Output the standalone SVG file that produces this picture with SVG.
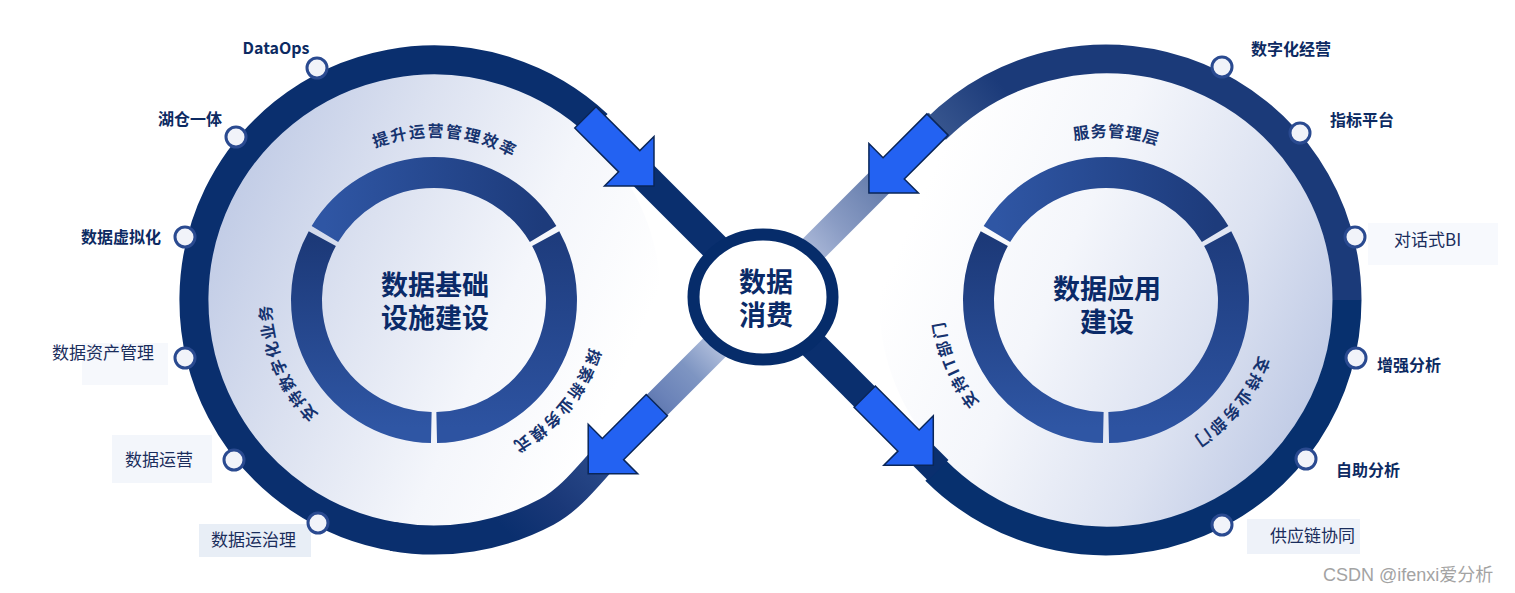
<svg xmlns="http://www.w3.org/2000/svg" width="1515" height="593" viewBox="0 0 1515 593">
<defs>
<linearGradient id="diskL" gradientUnits="userSpaceOnUse" x1="620" y1="380" x2="210" y2="200">
<stop offset="0" stop-color="#ffffff"/><stop offset="0.3" stop-color="#f4f6fb"/><stop offset="0.65" stop-color="#dbe1f0"/><stop offset="1" stop-color="#bfcae5"/>
</linearGradient>
<linearGradient id="diskR" gradientUnits="userSpaceOnUse" x1="920" y1="200" x2="1330" y2="380">
<stop offset="0" stop-color="#ffffff"/><stop offset="0.35" stop-color="#f4f6fb"/><stop offset="0.7" stop-color="#dce2f1"/><stop offset="1" stop-color="#bfcae5"/>
</linearGradient>
<linearGradient id="bandUR" gradientUnits="userSpaceOnUse" x1="1010" y1="95" x2="790" y2="275">
<stop offset="0" stop-color="#1b3a79"/><stop offset="0.3" stop-color="#3a5890"/><stop offset="0.76" stop-color="#8a9cc4"/><stop offset="0.9" stop-color="#aab8d8"/><stop offset="1" stop-color="#b6c3df"/>
</linearGradient>
<linearGradient id="bandLL" gradientUnits="userSpaceOnUse" x1="520" y1="545" x2="720" y2="345">
<stop offset="0" stop-color="#0a2f6e"/><stop offset="0.2" stop-color="#1a3878"/><stop offset="0.45" stop-color="#2c4c8c"/><stop offset="0.73" stop-color="#6a82b8"/><stop offset="0.86" stop-color="#7e95c2"/><stop offset="1" stop-color="#b4c1de"/>
</linearGradient>
<linearGradient id="segTop" x1="0" y1="0" x2="1" y2="0">
<stop offset="0" stop-color="#2f56a4"/><stop offset="1" stop-color="#1d3b7b"/>
</linearGradient>
<linearGradient id="segLeft" x1="0" y1="0" x2="0" y2="1">
<stop offset="0" stop-color="#1c3978"/><stop offset="1" stop-color="#2f56a4"/>
</linearGradient>
<linearGradient id="segRight" x1="0" y1="0" x2="0" y2="1">
<stop offset="0" stop-color="#1e3c7d"/><stop offset="1" stop-color="#2d53a1"/>
</linearGradient>
<path id="tp1" d="M 275.8 260.6 A 163 163 0 0 1 596.1 283.0"/>
<path id="tp2" d="M 470.7 458.8 A 163 163 0 0 1 345.2 163.3"/>
<path id="tp3" d="M 557.8 193.9 A 163 163 0 0 1 354.0 442.0"/>
<path id="tp4" d="M 947.6 261.7 A 163 163 0 0 1 1268.0 281.8"/>
<path id="tp5" d="M 1142.7 458.8 A 163 163 0 0 1 1017.2 163.3"/>
<path id="tp6" d="M 1229.0 193.1 A 163 163 0 0 1 1027.0 442.6"/>
</defs>
<style>
.ring{fill:none;stroke-width:29;stroke-linecap:butt;stroke-linejoin:round}
.seg{fill:none;stroke-width:31}
.arrow{fill:#2362f2;stroke:#0a2658;stroke-width:1.5;stroke-linejoin:miter}
.dot{fill:#f1f3f9;stroke:#2a4a90;stroke-width:3}
.big{font-family:"Noto Sans CJK SC","Noto Sans",sans-serif;font-size:27px;font-weight:700;fill:#0a2a68;text-anchor:middle}
.arc{font-family:"Noto Sans CJK SC","Noto Sans",sans-serif;font-size:16px;font-weight:700;fill:#16336f}
.lb{font-family:"Noto Sans CJK SC","Noto Sans",sans-serif;font-size:16px;font-weight:700;fill:#0c2a62}
.lr{font-family:"Noto Sans CJK SC","Noto Sans",sans-serif;font-size:17px;font-weight:400;fill:#1a2d5c}
.box{stroke:none}
</style>
<rect width="1515" height="593" fill="#ffffff"/>

<g id="left-node">
<circle cx="434" cy="300" r="227" fill="url(#diskL)"/>
</g>
<g id="right-node">
<circle cx="1106" cy="300" r="227" fill="url(#diskR)"/>
</g>

<g id="connectors">
<path class="ring" stroke="#0a2f6e" d="M 597.7 124.5 A 240 240 0 1 0 396.5 537.0"/>
<path class="ring" stroke="url(#bandLL)" d="M 392.3 536.4 A 240 240 0 0 0 546.7 511.9 C 573.2 497.8 591.8 470.2 613 449 L 765 297"/>
<path class="ring" stroke="url(#bandUR)" d="M 765 297 L 939 123"/>
<path class="ring" stroke="url(#bandUR)" d="M 1347 300 A 241 241 0 0 0 935.6 129.6"/>
<path class="ring" stroke="#07306e" d="M 935.6 470.4 A 241 241 0 0 0 1347 300"/>
<path class="ring" stroke="#0a2f6e" d="M 595.3 127.3 L 938.2 470.2"/>
<polygon class="arrow" points="0,-15 62,-15 62,-35 97,0 62,35 62,15 0,15" transform="translate(585.4 117.4) rotate(45)"/>
<polygon class="arrow" points="0,-15 62,-15 62,-35 97,0 62,35 62,15 0,15" transform="translate(864.7 396.7) rotate(45)"/>
<polygon class="arrow" points="0,-15 62,-15 62,-35 97,0 62,35 62,15 0,15" transform="translate(937.5 124.5) rotate(135)"/>
<polygon class="arrow" points="0,-15 62,-15 62,-35 97,0 62,35 62,15 0,15" transform="translate(656.8 405.2) rotate(135)"/>
</g>

<g id="left-core">
<path class="seg" stroke="url(#segTop)" d="M 324.9 234.0 A 127.5 127.5 0 0 1 543.1 234.0"/>
<path class="seg" stroke="url(#segRight)" d="M 545.7 238.6 A 127.5 127.5 0 0 1 436.7 427.5"/>
<path class="seg" stroke="url(#segLeft)" d="M 431.3 427.5 A 127.5 127.5 0 0 1 322.3 238.6"/>
<text class="big"><tspan x="435" y="295">数据基础</tspan><tspan x="435" y="328">设施建设</tspan></text>
<text class="arc" font-size="17" letter-spacing="2"><textPath href="#tp1" startOffset="50%" text-anchor="middle">提升运营管理效率</textPath></text>
<text class="arc" letter-spacing="1.7"><textPath href="#tp2" startOffset="50%" text-anchor="middle">支持数字化业务</textPath></text>
<text class="arc" letter-spacing="2.3"><textPath href="#tp3" startOffset="50%" text-anchor="middle">探索新业务模式</textPath></text>
</g>

<g id="right-core">
<path class="seg" stroke="url(#segTop)" d="M 996.9 234.0 A 127.5 127.5 0 0 1 1215.1 234.0"/>
<path class="seg" stroke="url(#segRight)" d="M 1217.7 238.6 A 127.5 127.5 0 0 1 1108.7 427.5"/>
<path class="seg" stroke="url(#segLeft)" d="M 1103.3 427.5 A 127.5 127.5 0 0 1 994.3 238.6"/>
<text class="big"><tspan x="1107" y="299">数据应用</tspan><tspan x="1107" y="332">建设</tspan></text>
<text class="arc" letter-spacing="1"><textPath href="#tp4" startOffset="50%" text-anchor="middle">服务管理层</textPath></text>
<text class="arc" letter-spacing="2"><textPath href="#tp5" startOffset="50%" text-anchor="middle">支持IT部门</textPath></text>
<text class="arc" letter-spacing="2.2"><textPath href="#tp6" startOffset="50%" text-anchor="middle">支持业务部门</textPath></text>
</g>

<g id="center-node">
<ellipse cx="763" cy="297" rx="69.5" ry="62.5" fill="#ffffff" stroke="#062c6a" stroke-width="12"/>
<text class="big"><tspan x="766" y="292">数据</tspan><tspan x="766" y="325">消费</tspan></text>
</g>

<g id="n-dataops"><circle class="dot" cx="317" cy="68" r="10"/><text class="lb" x="276" y="54" text-anchor="middle">DataOps</text></g>
<g id="n-hucang"><circle class="dot" cx="236" cy="137" r="10"/><text class="lb" x="222" y="125" text-anchor="end">湖仓一体</text></g>
<g id="n-xuni"><circle class="dot" cx="185" cy="237" r="10"/><text class="lb" x="161" y="243" text-anchor="end">数据虚拟化</text></g>
<g id="n-zichan"><rect class="box" x="82" y="343" width="86" height="42" fill="#f6f8fc"/><circle class="dot" cx="185" cy="358" r="10"/><text class="lr" x="52" y="359">数据资产管理</text></g>
<g id="n-yunying"><rect class="box" x="112" y="435" width="100" height="48" fill="#f3f6fb"/><circle class="dot" cx="234" cy="460" r="10"/><text class="lr" x="125" y="466">数据运营</text></g>
<g id="n-zhili"><rect class="box" x="199" y="524" width="112" height="33" fill="#e8eef6"/><circle class="dot" cx="318" cy="523" r="10"/><text class="lr" x="211" y="546">数据运治理</text></g>

<g id="n-jingying"><circle class="dot" cx="1222" cy="67" r="10"/><text class="lb" x="1251" y="55">数字化经营</text></g>
<g id="n-zhibiao"><circle class="dot" cx="1300" cy="133" r="10"/><text class="lb" x="1330" y="126">指标平台</text></g>
<g id="n-bi"><rect class="box" x="1368" y="223" width="130" height="42" fill="#f7f9fd"/><circle class="dot" cx="1355" cy="237" r="10"/><text class="lr" x="1394" y="246">对话式BI</text></g>
<g id="n-zengqiang"><circle class="dot" cx="1356" cy="358" r="10"/><text class="lb" x="1377" y="371">增强分析</text></g>
<g id="n-zizhu"><circle class="dot" cx="1306" cy="459" r="10"/><text class="lb" x="1336" y="476">自助分析</text></g>
<g id="n-gongying"><rect class="box" x="1247" y="519" width="113" height="35" fill="#eef2f9"/><circle class="dot" cx="1222" cy="525" r="10"/><text class="lr" x="1270" y="542">供应链协同</text></g>

<text x="1323" y="581" font-family="'Liberation Sans','Noto Sans CJK SC',sans-serif" font-size="18" fill="#a3a3a3">CSDN @ifenxi爱分析</text>
</svg>
